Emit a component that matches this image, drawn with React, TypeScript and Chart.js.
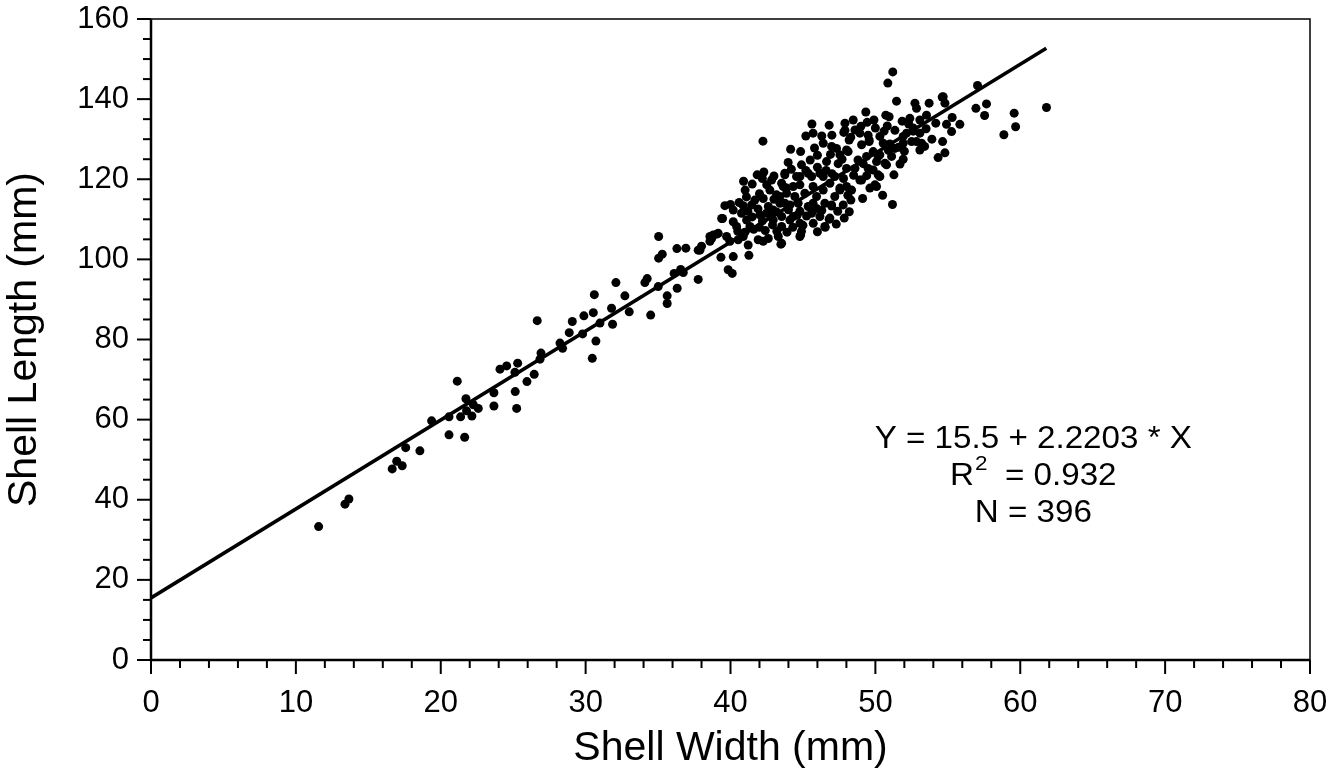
import { useEffect, useRef } from "react";
import { Chart, registerables } from "chart.js";

Chart.register(...registerables);

// Shell width (mm) and shell length (mm) for each specimen
const shellWidth: number[] = [
  11.57, 13.39, 13.66, 16.65, 16.96, 17.34, 17.58, 18.56, 19.37, 20.57,
  20.57, 21.14, 21.65, 21.37, 21.74, 21.78, 22.15, 22.25, 22.59, 23.67,
  23.67, 25.14, 25.24, 25.95, 26.45, 24.09, 24.55, 25.31, 25.12, 26.66,
  26.92, 26.85, 28.23, 28.41, 28.87, 29.08, 29.88, 29.79, 30.46, 30.71,
  30.53, 30.6, 30.99, 31.86, 31.79, 32.09, 32.71, 33.01, 34.09, 34.25,
  34.49, 35.04, 35.29, 35.04, 35.01, 35.63, 35.63, 36.32, 36.11, 36.56,
  36.74, 36.3, 36.92, 37.77, 37.89, 38.0, 39.84, 40.12, 39.34, 40.19,
  41.27, 43.48, 44.84, 46.54, 38.58, 39.04, 46.81, 44.9, 41.84, 41.01,
  39.61, 40.0, 40.88, 39.45, 38.7,
  61.81, 59.58, 59.68, 58.87, 56.94, 57.67, 57.54, 55.83, 55.3, 55.26,
  54.91, 54.64, 54.8, 54.33, 54.61, 53.71, 52.73, 52.84, 51.46, 51.18,
  51.28, 51.92, 53.07, 53.19, 52.84, 54.17, 49.34, 49.43, 49.9, 50.72,
  50.95, 50.82, 51.85, 47.9, 47.82, 46.81, 45.62, 45.7, 45.2, 44.15,
  44.84, 43.98, 46.4, 48.19, 48.01, 48.93, 49.57, 50.31, 50.54, 51.92,
  51.35, 51.12, 50.08, 50.77, 50.19, 50.08, 49.62, 49.12, 48.31, 47.85,
  47.78, 46.86, 46.51, 46.98, 44.79, 43.53, 45.25, 44.33, 48.93, 48.36,
  47.55, 46.86, 47.2, 46.4, 48.59, 49.16, 49.5, 46.63, 47.43, 48.01,
  46.17, 45.6, 45.7, 44.79, 44.33, 43.87, 45.13, 44.67, 45.7, 43.75,
  43.64, 43.75, 43.53, 43.53, 48.12, 47.55, 47.32, 49.85, 49.39, 50.31,
  52.61, 53.07, 52.5, 51.35, 48.47, 48.59, 47.9, 44.79, 45.48, 45.94,
  49.05, 49.57, 46.98, 53.53, 52.61, 52.15, 51.92, 53.07, 52.38, 50.19,
  50.66, 50.31, 49.85, 49.97, 49.05, 47.55, 48.01, 47.2, 46.4, 42.84,
  43.53, 43.75, 44.56, 45.36, 44.79, 42.72, 43.18, 42.26, 41.68, 41.46,
  43.41, 44.1, 44.44, 44.79, 45.36, 45.94, 46.51, 46.98, 42.03, 42.49,
  42.95, 43.2, 44.1, 39.39, 40.19, 40.42, 41.11, 41.34, 38.81, 39.15,
  39.73, 39.96, 40.53, 40.88, 41.22, 41.91, 42.26, 42.61, 38.58, 37.77,
  43.3, 43.87, 43.41, 45.6, 46.17, 45.71, 40.76, 40.19, 42.61, 42.95,
  57.05, 54.68, 54.8, 42.24, 51.2, 50.86,
  40.5, 41.0, 41.6, 42.0, 42.4, 42.9, 43.2, 43.9, 44.3, 44.6,
  41.5, 42.2, 42.8, 41.2, 41.9, 40.6, 41.1, 42.0, 42.5, 43.0,
  42.2, 41.5, 44.2, 44.9, 45.5, 46.0, 45.2, 46.0, 46.6, 47.0,
  47.8, 48.5, 48.8, 47.7, 46.9, 45.8, 46.3, 47.0, 48.3, 49.0,
  50.0, 50.6, 49.5, 51.0, 51.6, 52.0, 50.9, 52.3, 53.5, 53.9,
  53.4, 51.7, 50.5, 49.4, 48.1, 47.4, 46.3, 45.0, 46.0, 47.3,
  48.2, 44.0, 43.0, 42.3, 40.9,
];

const shellLength: number[] = [
  33.3, 38.9, 40.2, 47.7, 49.6, 48.5, 53.0, 52.2, 59.7, 56.2,
  60.7, 69.6, 55.6, 60.7, 65.2, 62.2, 60.9, 63.7, 62.8, 66.7,
  63.4, 67.0, 62.8, 69.5, 71.3, 72.6, 73.4, 74.1, 71.8, 84.7,
  76.6, 75.1, 79.1, 77.8, 81.7, 84.5, 85.9, 81.4, 75.3, 79.6,
  86.7, 91.2, 84.1, 83.8, 87.8, 94.2, 90.9, 86.9, 94.2, 95.2,
  86.1, 105.7, 101.3, 100.3, 93.2, 90.9, 89.0, 92.8, 96.5, 97.5,
  96.7, 102.7, 102.8, 95.0, 102.3, 103.3, 97.4, 96.5, 100.5, 100.7,
  101.0, 103.8, 106.1, 108.0, 105.7, 106.3, 110.0, 107.0, 121.1, 117.3,
  113.4, 113.7, 113.4, 110.2, 105.2,
  137.9, 136.5, 133.1, 131.1, 137.7, 138.8, 135.9, 133.7, 135.4, 131.9,
  133.7, 129.4, 126.6, 125.4, 140.5, 139.0, 139.0, 137.7, 139.5, 113.7,
  121.1, 125.0, 127.3, 129.0, 129.4, 134.0, 136.8, 134.2, 134.8, 136.0,
  135.6, 133.3, 134.5, 132.2, 131.7, 133.5, 133.8, 131.5, 130.8, 127.5,
  126.9, 124.2, 129.0, 129.8, 127.3, 131.5, 129.4, 130.7, 129.0, 130.7,
  127.7, 125.7, 124.4, 123.6, 121.1, 118.2, 117.8, 115.2, 114.8, 110.3,
  113.6, 110.3, 108.2, 113.3, 105.7, 104.0, 110.8, 110.7, 119.8, 117.3,
  117.8, 119.0, 115.7, 117.3, 122.7, 123.9, 122.7, 124.4, 123.9, 122.7,
  121.5, 120.7, 118.2, 120.7, 118.2, 116.5, 116.5, 114.0, 114.0, 121.5,
  118.2, 114.0, 110.7, 108.2, 126.9, 126.1, 127.7, 126.9, 125.7, 126.1,
  132.0, 131.5, 129.4, 132.2, 134.8, 132.3, 134.0, 109.0, 113.2, 115.7,
  128.6, 129.8, 128.2, 136.0, 132.8, 131.5, 129.0, 134.8, 135.2, 125.7,
  124.0, 120.7, 122.3, 118.6, 119.8, 117.3, 118.2, 120.7, 120.7, 119.8,
  119.0, 121.1, 120.7, 121.5, 118.6, 117.3, 116.1, 115.2, 114.8, 113.6,
  114.0, 113.6, 115.7, 112.0, 113.2, 112.7, 114.0, 113.6, 111.1, 111.5,
  109.8, 111.8, 109.8, 110.2, 109.4, 108.2, 109.8, 108.2, 106.1, 106.5,
  105.7, 104.5, 104.9, 105.7, 103.6, 104.9, 104.5, 105.2, 104.5, 102.3,
  105.7, 117.8, 115.7, 111.5, 110.7, 109.0, 111.5, 112.3, 113.2, 112.3,
  143.4, 140.6, 139.0, 129.5, 146.8, 144.0,
  107.0, 106.8, 107.5, 108.0, 107.2, 108.6, 107.0, 106.8, 108.0, 111.0,
  110.6, 109.6, 110.8, 112.0, 112.6, 114.2, 115.6, 116.4, 118.6, 120.8,
  120.2, 118.8, 122.5, 123.6, 124.8, 126.0, 122.2, 123.0, 122.2, 121.4,
  120.2, 121.0, 124.8, 125.0, 126.2, 127.8, 130.8, 131.0, 130.5, 133.2,
  132.8, 132.0, 131.0, 128.8, 128.0, 127.0, 127.2, 133.8, 132.6, 130.0,
  128.2, 123.8, 116.0, 120.9, 116.0, 112.0, 112.2, 108.5, 106.9, 108.8,
  111.9, 112.4, 115.0, 121.8, 119.5,
];

// Fitted regression line end points (Y = 15.5 + 2.2203 * X)
const fitWidth: number[] = [0, 61.8];
const fitLength: number[] = [15.5, 152.7];

const xTickLabels: number[] = [0, 10, 20, 30, 40, 50, 60, 70, 80];
const yTickLabels: number[] = [0, 20, 40, 60, 80, 100, 120, 140, 160];

const xTitle = "Shell Width (mm)";
const yTitle = "Shell Length (mm)";
const eqLine = "Y = 15.5 + 2.2203 * X";
const r2Base = "R";
const r2Sup = "2";
const r2Rest = "  = 0.932";
const nLine = "N = 396";

const FONT = "'Liberation Sans', Arial, Helvetica, sans-serif";
const FS = 31;
const TITLE_FS = 41;

const framePlugin = {
  id: "frameTicks",
  afterDraw(chart: any) {
    const { ctx, chartArea } = chart;
    const { left, right, top, bottom } = chartArea;
    const xs = chart.scales.x;
    const ys = chart.scales.y;
    ctx.save();
    ctx.strokeStyle = "#000";
    ctx.lineCap = "butt";
    ctx.lineWidth = 1.5;
    ctx.beginPath();
    ctx.moveTo(left, top);
    ctx.lineTo(right, top);
    ctx.lineTo(right, bottom);
    ctx.stroke();
    ctx.lineWidth = 2.5;
    ctx.beginPath();
    ctx.moveTo(left, top);
    ctx.lineTo(left, bottom);
    ctx.lineTo(right, bottom);
    ctx.stroke();
    ctx.lineWidth = 2;
    for (let v = xs.min; v <= xs.max + 1e-9; v += 2) {
      const px = xs.getPixelForValue(v);
      const len = Math.abs(v % 10) < 1e-6 ? 14 : 8;
      ctx.beginPath();
      ctx.moveTo(px, bottom);
      ctx.lineTo(px, bottom + len);
      ctx.stroke();
    }
    for (let v = ys.min; v <= ys.max + 1e-9; v += 5) {
      const py = ys.getPixelForValue(v);
      const len = Math.abs(v % 20) < 1e-6 ? 14 : 8;
      ctx.beginPath();
      ctx.moveTo(left - len, py);
      ctx.lineTo(left, py);
      ctx.stroke();
    }

    // annotation (slightly widened like the original lettering)
    const cx = xs.getPixelForValue(60.9);
    const y1 = ys.getPixelForValue(55.0);
    const gap = 37;
    const sx0 = 1.07;
    ctx.save();
    ctx.translate(cx, 0);
    ctx.scale(sx0, 1);
    ctx.fillStyle = "#000";
    ctx.textBaseline = "middle";
    ctx.font = `${FS}px ${FONT}`;
    ctx.textAlign = "center";
    ctx.fillText(eqLine, 0, y1);
    ctx.fillText(nLine, 0, y1 + 2 * gap);
    ctx.textAlign = "left";
    const wR = ctx.measureText(r2Base).width;
    const wRest = ctx.measureText(r2Rest).width;
    const supFont = `${Math.round(FS * 0.68)}px ${FONT}`;
    ctx.font = supFont;
    const wSup = ctx.measureText(r2Sup).width;
    const total = wR + wSup + wRest;
    let sx = -total / 2;
    const y2 = y1 + gap;
    ctx.font = `${FS}px ${FONT}`;
    ctx.fillText(r2Base, sx, y2);
    sx += wR;
    ctx.font = supFont;
    ctx.fillText(r2Sup, sx + 1, y2 - 12);
    sx += wSup;
    ctx.font = `${FS}px ${FONT}`;
    ctx.fillText(r2Rest, sx, y2);
    ctx.restore();
    ctx.restore();
  },
};

const zeroPad = (s: any) => {
  s.paddingTop = 0;
  s.paddingBottom = 0;
  s.paddingLeft = 0;
  s.paddingRight = 0;
};

export default function App() {
  const ref = useRef<HTMLCanvasElement | null>(null);

  useEffect(() => {
    if (!ref.current) return;
    const points = shellWidth.map((w, i) => ({ x: w, y: shellLength[i] }));
    const fit = fitWidth.map((w, i) => ({ x: w, y: fitLength[i] }));
    const chart = new Chart(ref.current, {
      type: "scatter",
      data: {
        datasets: [
          {
            type: "line",
            label: "fit",
            data: fit,
            borderColor: "#000",
            borderWidth: 3.5,
            pointRadius: 0,
            fill: false,
            tension: 0,
          },
          {
            label: "shells",
            data: points,
            backgroundColor: "#000",
            borderColor: "#000",
            borderWidth: 0,
            pointRadius: 4.5,
          },
        ],
      } as any,
      options: {
        animation: false,
        responsive: false,
        devicePixelRatio: 1,
        layout: { autoPadding: false, padding: { left: 0, top: 19, right: 34, bottom: 0 } },
        plugins: {
          legend: { display: false },
          tooltip: { enabled: false },
        },
        scales: {
          x: {
            type: "linear",
            min: 0,
            max: 80,
            grid: { display: false, drawTicks: false },
            border: { display: false },
            afterBuildTicks: (s: any) => {
              s.ticks = xTickLabels.map((v) => ({ value: v }));
            },
            afterFit: (s: any) => {
              s.height = 114;
              zeroPad(s);
            },
            ticks: {
              color: "#000",
              padding: 26,
              maxRotation: 0,
              font: { family: FONT, size: FS, lineHeight: 1.1 },
            },
            title: {
              display: true,
              text: xTitle,
              color: "#000",
              font: { family: FONT, size: TITLE_FS, lineHeight: 1.1 },
              padding: { top: 0, bottom: 3 },
            },
          },
          y: {
            type: "linear",
            min: 0,
            max: 160,
            grid: { display: false, drawTicks: false },
            border: { display: false },
            afterBuildTicks: (s: any) => {
              s.ticks = yTickLabels.map((v) => ({ value: v }));
            },
            afterFit: (s: any) => {
              s.width = 151;
              zeroPad(s);
            },
            ticks: {
              color: "#000",
              padding: 22,
              font: { family: FONT, size: FS, lineHeight: 1.1 },
            },
            title: {
              display: true,
              text: yTitle,
              color: "#000",
              font: { family: FONT, size: TITLE_FS, lineHeight: 1.1 },
              padding: { top: 2, bottom: 0 },
            },
          },
        },
      } as any,
      plugins: [framePlugin],
    });
    return () => chart.destroy();
  }, []);

  return (
    <div style={{ position: "fixed", left: 0, top: 0, width: 1344, height: 774, background: "#fff" }}>
      <canvas ref={ref} width={1344} height={774} style={{ width: 1344, height: 774, display: "block" }} />
    </div>
  );
}
